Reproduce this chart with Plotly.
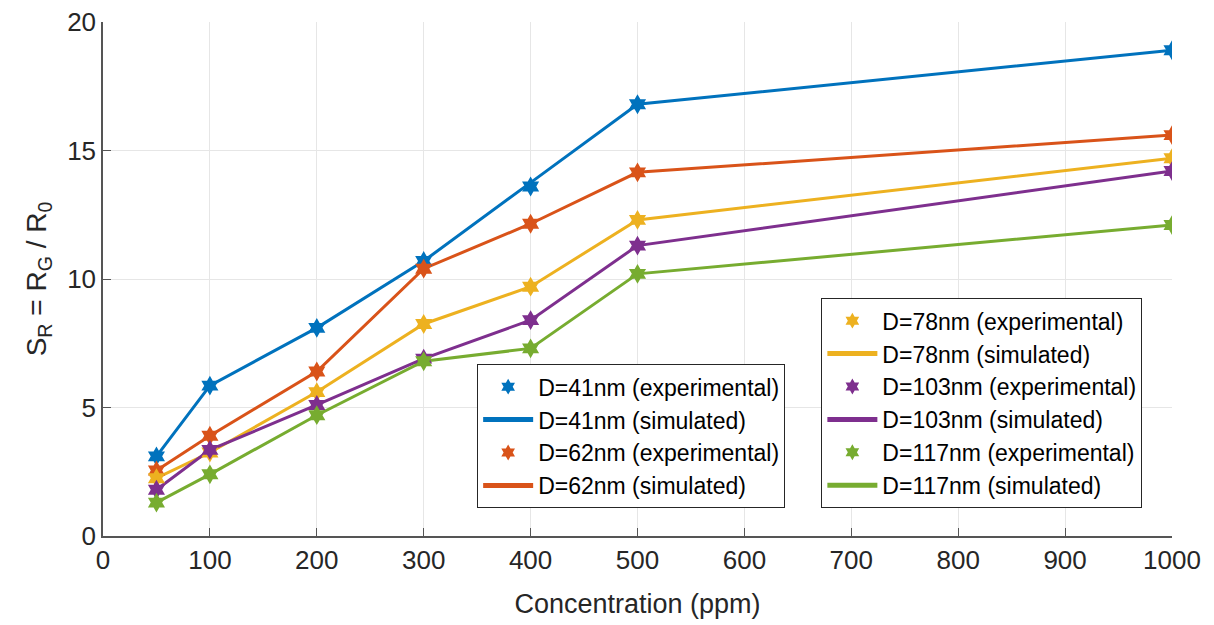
import plotly.graph_objects as go

conc = [50, 100, 200, 300, 400, 500, 1000]

exp_41 = [3.1, 5.85, 8.1, 10.7, 13.6, 16.8, 18.9]
sim_41 = [3.1, 5.85, 8.1, 10.7, 13.75, 16.8, 18.9]
exp_62 = [2.55, 3.9, 6.4, 10.4, 12.15, 14.15, 15.6]
sim_62 = [2.55, 3.9, 6.4, 10.4, 12.15, 14.15, 15.6]
exp_78 = [2.25, 3.25, 5.6, 8.25, 9.7, 12.3, 14.7]
sim_78 = [2.25, 3.25, 5.6, 8.25, 9.7, 12.3, 14.7]
exp_103 = [1.8, 3.35, 5.1, 6.9, 8.4, 11.3, 14.2]
sim_103 = [1.8, 3.35, 5.1, 6.9, 8.4, 11.3, 14.2]
exp_117 = [1.3, 2.4, 4.7, 6.8, 7.3, 10.2, 12.1]
sim_117 = [1.3, 2.4, 4.7, 6.8, 7.3, 10.2, 12.1]

labels = ["41", "62", "78", "103", "117"]
colors = ["#0072BD", "#D95319", "#EDB120", "#7E2F8E", "#77AC30"]
exp_sets = [exp_41, exp_62, exp_78, exp_103, exp_117]
sim_sets = [sim_41, sim_62, sim_78, sim_103, sim_117]
legend_of = ["legend", "legend", "legend2", "legend2", "legend2"]

x_ticks = [0, 100, 200, 300, 400, 500, 600, 700, 800, 900, 1000]
y_ticks = [0, 5, 10, 15, 20]

FONT = "Arial, Liberation Sans, Helvetica, sans-serif"

fig = go.Figure()
for i, (lab, col) in enumerate(zip(labels, colors)):
    fig.add_trace(go.Scatter(
        x=conc, y=sim_sets[i], mode="lines",
        line=dict(color=col, width=3),
        name=f"D={lab}nm (simulated)", legend=legend_of[i],
        legendgroup=f"s{lab}", legendrank=2 * i + 2, showlegend=True))
for i, (lab, col) in enumerate(zip(labels, colors)):
    fig.add_trace(go.Scatter(
        x=conc, y=exp_sets[i], mode="markers",
        marker=dict(symbol="hexagram", size=15, color=col, line=dict(width=0)),
        name=f"D={lab}nm (experimental)", legend=legend_of[i],
        legendgroup=f"e{lab}", legendrank=2 * i + 1, showlegend=True))

legend_style = dict(
    bgcolor="white", bordercolor="#262626", borderwidth=1,
    font=dict(family=FONT, size=23, color="#000000"),
    tracegroupgap=0, itemsizing="constant", itemwidth=50,
    xanchor="left", yanchor="bottom", traceorder="normal",
)

fig.update_layout(
    width=1214, height=625,
    margin=dict(l=95, r=50, t=14, b=97, autoexpand=False),
    paper_bgcolor="white", plot_bgcolor="white",
    font=dict(family=FONT, size=26, color="#262626"),
    showlegend=True,
    legend=dict(x=0.35, y=0.054, **legend_style),
    legend2=dict(x=0.672, y=0.054, **legend_style),
    xaxis=dict(
        range=[0, 1000], tickvals=x_ticks, ticktext=[str(v) for v in x_ticks],
        showgrid=True, gridcolor="#e6e6e6", gridwidth=1,
        showline=True, linecolor="#555555", linewidth=1.5,
        ticks="inside", ticklen=8, tickcolor="#555555",
        tickfont=dict(size=26, color="#262626"),
        ticklabeloverflow="allow",
        title=dict(text="Concentration (ppm)", font=dict(size=27, color="#262626"), standoff=20),
        zeroline=False, mirror=False, automargin=False,
    ),
    yaxis=dict(
        range=[0, 20], tickvals=y_ticks,
        showgrid=True, gridcolor="#e6e6e6", gridwidth=1,
        showline=True, linecolor="#555555", linewidth=1.5,
        ticks="inside", ticklen=8, tickcolor="#555555",
        tickfont=dict(size=26, color="#262626"),
        ticklabeloverflow="allow",
        title=dict(text="S<sub>R</sub> = R<sub>G</sub> / R<sub>0</sub>",
                   font=dict(size=28, color="#262626"), standoff=12),
        zeroline=False, mirror=False, automargin=False,
    ),
)

fig.write_html("out.html")
